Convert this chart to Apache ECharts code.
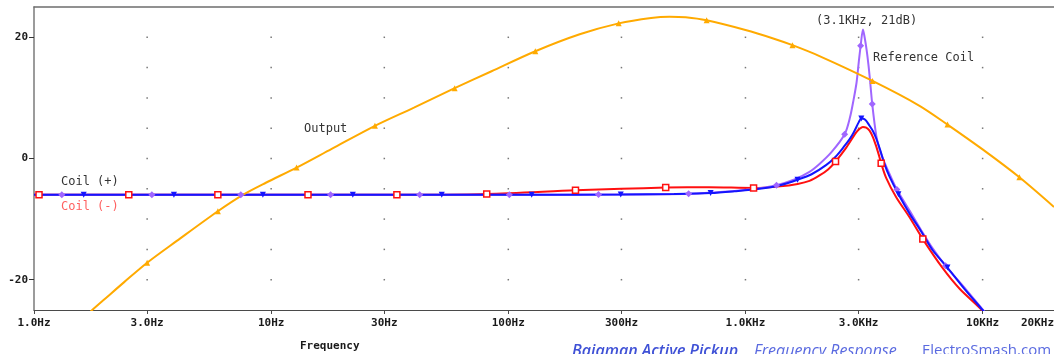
<!DOCTYPE html>
<html>
<head>
<meta charset="utf-8">
<script src="https://cdn.jsdelivr.net/npm/echarts@6/dist/echarts.min.js"></script>
<style>
  html, body { margin: 0; padding: 0; background: #fff; }
  #chart { width: 1054px; height: 354px; }
</style>
</head>
<body>
<div id="chart"></div>
<script>
// axis ticks
const xTickValues = [1, 3, 10, 30, 100, 300, 1000, 3000, 10000, 20000]
const xTickLabels = ['1.0Hz', '3.0Hz', '10Hz', '30Hz', '100Hz', '300Hz', '1.0KHz', '3.0KHz', '10KHz', '20KHz']
const yTickValues = [-20, 0, 20]
const yTickLabels = ['-20', '0', '20']
const gridDbLevels = [-20, -15, -10, -5, 0, 5, 10, 15, 20]

// Output (amplifier)
const outputFreq = [1.7, 1.76, 2.0, 2.4, 3.0, 4.0, 5.96, 7.6, 9.5, 12.8, 18, 27.4, 40, 59.4, 85, 130, 200, 292, 400, 479, 560, 686, 1000, 1300, 1578, 2052, 3434, 5420, 7110, 10000, 14290, 20000]
const outputDb = [-25.6, -25.0, -23.1, -20.4, -17.2, -13.6, -8.7, -6.0, -4.0, -1.5, 1.6, 5.4, 8.4, 11.6, 14.4, 17.7, 20.5, 22.3, 23.2, 23.4, 23.3, 22.8, 21.2, 19.85, 18.7, 16.9, 12.8, 8.7, 5.6, 1.5, -3.1, -8.0]
const outputMarks = [3.0, 5.96, 12.8, 27.4, 59.4, 130, 292, 686, 1578, 3434, 7110, 14290]

// Coil (-)
const coilMinusFreq = [1, 1.05, 2.51, 5.96, 14.3, 33.9, 81.1, 192, 300, 461, 700, 1082, 1400, 1660, 1862, 2052, 2230, 2398, 2661, 2931, 3030, 3126, 3230, 3337, 3450, 3560, 3650, 3735, 3920, 4322, 4920, 5595, 6790, 8000, 9860, 10500]
const coilMinusDb = [-6.0, -6.0, -6.0, -6.0, -6.0, -6.0, -5.85, -5.25, -5.0, -4.8, -4.75, -4.85, -4.6, -4.2, -3.7, -2.8, -1.8, -0.5, 1.8, 4.3, 4.9, 5.2, 5.1, 4.6, 3.5, 2.0, 0.6, -0.8, -3.2, -6.4, -9.7, -13.3, -18.1, -21.5, -24.9, -26.3]
const coilMinusMarks = [1.05, 2.51, 5.96, 14.3, 33.9, 81.1, 192, 461, 1082, 2398, 3735, 5595]

// Coil (+)
const coilPlusFreq = [1, 1.62, 3.89, 9.23, 22.1, 52.4, 125.5, 298, 500, 713, 900, 1146, 1400, 1658, 1900, 2186, 2400, 2596, 2750, 2860, 3005, 3080, 3200, 3337, 3450, 3560, 3700, 3855, 4050, 4417, 4920, 5500, 6146, 7107, 8500, 10000, 10600]
const coilPlusDb = [-6.0, -6.0, -6.0, -6.0, -6.0, -6.0, -6.0, -5.95, -5.85, -5.7, -5.4, -5.0, -4.4, -3.5, -2.6, -1.1, 0.3, 1.9, 3.2, 4.3, 6.0, 6.6, 6.4, 5.4, 4.5, 3.3, 1.4, -0.9, -3.0, -5.9, -9.1, -12.0, -15.1, -18.0, -21.8, -25.0, -26.2]
const coilPlusMarks = [1.62, 3.89, 9.23, 22.1, 52.4, 125.5, 298, 713, 1658, 3080, 4417, 7107]

// Reference Coil
const refFreq = [1, 1.31, 3.14, 7.45, 17.8, 42.3, 101, 240, 576, 900, 1146, 1352, 1600, 1862, 2052, 2300, 2620, 2760, 2860, 2940, 3006, 3060, 3130, 3180, 3240, 3300, 3350, 3424, 3560, 3680, 3800, 3920, 4100, 4350, 4920, 5500, 6146, 6980, 8500, 10000, 10600]
const refDb = [-6.0, -6.0, -6.0, -6.0, -6.0, -6.0, -6.0, -5.95, -5.8, -5.35, -4.9, -4.4, -3.5, -2.2, -0.9, 1.0, 4.0, 6.8, 9.8, 12.5, 16.0, 18.6, 21.3, 20.0, 18.0, 15.5, 13.0, 9.0, 3.8, 1.5, 0.0, -1.3, -3.0, -5.1, -8.6, -11.8, -14.8, -17.7, -21.6, -24.9, -26.1]
const refMarks = [1.31, 3.14, 7.45, 17.8, 42.3, 101, 240, 576, 1352, 2620, 3060, 3424, 4350, 6980]

const monoFont = '"DejaVu Sans Mono", monospace'

function buildLine (freq, db, marks, symbol) {
  return freq.map((f, i) => ({
    value: [f, db[i]],
    symbol: marks.indexOf(f) >= 0 ? symbol : 'none'
  }))
}

// dotted grid: one dot per tick crossing
const gridDots = []
xTickValues.slice(1, -1).forEach(f => {
  gridDbLevels.forEach(d => gridDots.push([f, d]))
})

const myChart = echarts.init(document.getElementById('chart'))
myChart.setOption({
  animation: false,
  grid: { left: 34, right: 0, top: 7, bottom: 44, outerBoundsMode: 'none', containLabel: false },
  xAxis: [{
    type: 'log',
    logBase: 10,
    min: 1,
    max: 20000,
    position: 'bottom',
    axisLine: { show: true, onZero: false, lineStyle: { color: '#4a4a4a', width: 1 } },
    axisTick: { show: true, length: 4, customValues: xTickValues, lineStyle: { color: '#4a4a4a' } },
    axisLabel: {
      customValues: xTickValues,
      formatter: v => {
        const i = xTickValues.findIndex(t => Math.abs(t - v) / t < 1e-6)
        return i >= 0 ? xTickLabels[i] : ''
      },
      alignMaxLabel: 'right',
      margin: 8,
      fontFamily: monoFont,
      fontWeight: 'bold',
      fontSize: 11,
      color: '#1a1a1a'
    },
    splitLine: { show: false },
    minorTick: { show: false }
  }, {
    type: 'value',
    position: 'top',
    min: 0,
    max: 1,
    axisLine: { show: true, onZero: false, lineStyle: { color: '#6e6e6e', width: 1.5 } },
    axisTick: { show: false },
    axisLabel: { show: false },
    splitLine: { show: false }
  }],
  yAxis: {
    type: 'value',
    min: -25,
    max: 25,
    interval: 5,
    axisLine: { show: true, onZero: false, lineStyle: { color: '#7a7a7a', width: 1.5 } },
    axisTick: { show: true, length: 5, customValues: yTickValues, lineStyle: { color: '#333' } },
    axisLabel: {
      customValues: yTickValues,
      formatter: v => {
        const i = yTickValues.indexOf(v)
        return i >= 0 ? yTickLabels[i] : ''
      },
      margin: 6,
      fontFamily: monoFont,
      fontWeight: 'bold',
      fontSize: 11,
      color: '#1a1a1a'
    },
    splitLine: { show: false }
  },
  series: [
    {
      type: 'scatter',
      silent: true,
      symbol: 'rect',
      symbolSize: 1.5,
      itemStyle: { color: '#555' },
      data: gridDots
    },
    {
      name: 'Coil (-)',
      type: 'line',
      smooth: 0.3,
      symbolSize: 6,
      lineStyle: { color: '#ff1010', width: 2 },
      itemStyle: { color: '#fff', borderColor: '#ff1010', borderWidth: 1.5 },
      data: buildLine(coilMinusFreq, coilMinusDb, coilMinusMarks, 'rect')
    },
    {
      name: 'Reference Coil',
      type: 'line',
      smooth: 0.3,
      symbolSize: 7,
      lineStyle: { color: '#a066ff', width: 2 },
      itemStyle: { color: '#a066ff' },
      data: buildLine(refFreq, refDb, refMarks, 'diamond')
    },
    {
      name: 'Coil (+)',
      type: 'line',
      smooth: 0.3,
      symbolSize: 6,
      symbolRotate: 180,
      lineStyle: { color: '#1414ff', width: 2 },
      itemStyle: { color: '#1414ff' },
      data: buildLine(coilPlusFreq, coilPlusDb, coilPlusMarks, 'triangle')
    },
    {
      name: 'Output',
      type: 'line',
      smooth: 0.3,
      symbolSize: 6,
      lineStyle: { color: '#ffaa00', width: 2 },
      itemStyle: { color: '#ffaa00' },
      data: buildLine(outputFreq, outputDb, outputMarks, 'triangle')
    }
  ],
  graphic: [
    { type: 'text', x: 816, y: 21, style: { text: '(3.1KHz, 21dB)', font: '12px ' + monoFont, fill: '#333', textVerticalAlign: 'middle' } },
    { type: 'text', x: 873, y: 58, style: { text: 'Reference Coil', font: '12px ' + monoFont, fill: '#333', textVerticalAlign: 'middle' } },
    { type: 'text', x: 304, y: 129, style: { text: 'Output', font: '12px ' + monoFont, fill: '#333', textVerticalAlign: 'middle' } },
    { type: 'text', x: 61, y: 182, style: { text: 'Coil (+)', font: '12px ' + monoFont, fill: '#333', textVerticalAlign: 'middle' } },
    { type: 'text', x: 61, y: 207, style: { text: 'Coil (-)', font: '12px ' + monoFont, fill: '#ff6060', textVerticalAlign: 'middle' } },
    { type: 'text', x: 300, y: 346, style: { text: 'Frequency', font: 'bold 11px ' + monoFont, fill: '#1a1a1a', textVerticalAlign: 'middle' } },
    { type: 'text', x: 572, y: 351, style: { text: 'Bajaman Active Pickup', font: 'italic 600 16px "Open Sans"', fill: '#3f51d6', textVerticalAlign: 'middle' } },
    { type: 'text', x: 754, y: 351, style: { text: 'Frequency Response', font: 'italic 16px "Open Sans"', fill: '#5a6ae0', textVerticalAlign: 'middle' } },
    { type: 'text', x: 922, y: 351, style: { text: 'ElectroSmash.com', font: '15px "Open Sans"', fill: '#5a6ae0', textVerticalAlign: 'middle' } }
  ]
})
</script>
</body>
</html>
